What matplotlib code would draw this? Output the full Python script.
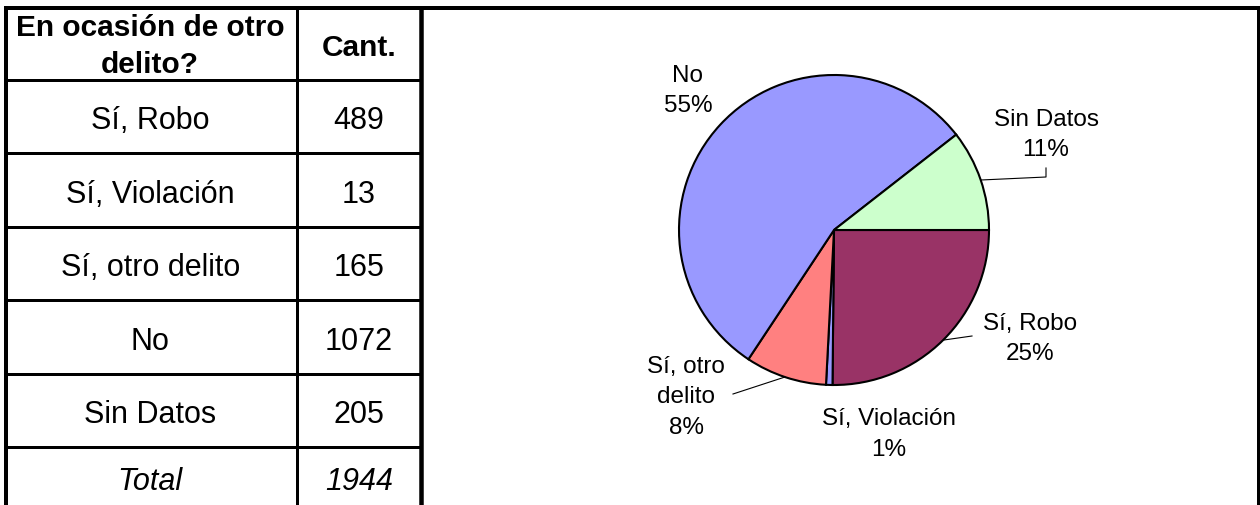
import matplotlib
matplotlib.use("Agg")
import matplotlib.pyplot as plt
import numpy as np

plt.rcParams['font.family'] = ['Liberation Sans', 'DejaVu Sans']

# ---- data ----
header = ["En ocasión de otro\ndelito?", "Cant."]
categories = ["Sí, Robo", "Sí, Violación", "Sí, otro delito", "No", "Sin Datos"]
counts = [489, 13, 165, 1072, 205]
total_label = "Total"
total_value = 1944

pie_labels = ["Sí, Robo", "Sí, Violación", "Sí, otro\ndelito", "No", "Sin Datos"]
pie_colors = ["#993366", "#9999FF", "#FF8080", "#9999FF", "#CCFFCC"]

W, H = 1260, 506
fig = plt.figure(figsize=(W / 100, H / 100), dpi=100)
fig.patch.set_facecolor("white")

# background axes in pixel coordinates
bg = fig.add_axes([0, 0, 1, 1])
bg.set_xlim(0, W)
bg.set_ylim(H, 0)
bg.axis("off")

px = 72 / 100  # points per pixel

# outer frame
bg.plot([5.5, 5.5], [9, H + 5], color="black", lw=4 * px, solid_capstyle="butt")
bg.plot([3.5, 1260], [9, 9], color="black", lw=4 * px, solid_capstyle="butt")
bg.plot([1258.5, 1258.5], [7, H + 5], color="black", lw=4 * px, solid_capstyle="butt")

# table grid
col_x = [5.5, 297, 421]
row_y = [9, 80.5, 154, 228, 301, 374.5, 448, 532]
bg.plot([297, 297], [9, H + 5], color="black", lw=3 * px, solid_capstyle="butt")
bg.plot([421, 421], [9, H + 5], color="black", lw=4.5 * px, solid_capstyle="butt")
for y in row_y[1:-1]:
    bg.plot([5.5, 421], [y, y], color="black", lw=3 * px, solid_capstyle="butt")

c1 = (col_x[0] + col_x[1]) / 2 - 1
c2 = (col_x[1] + col_x[2]) / 2
for j, line in enumerate(header[0].split("\n")):
    bg.text(c1, 35.5 + 37.5 * j, line, ha="center", va="baseline", fontsize=21.5,
            fontweight="bold")
bg.text(c2, 56, header[1], ha="center", va="baseline", fontsize=21.5,
        fontweight="bold")

rows = list(zip(categories, counts)) + [(total_label, total_value)]
for i, (cat, val) in enumerate(rows):
    last = i == len(rows) - 1
    yb = 490 if last else (row_y[i + 1] + row_y[i + 2]) / 2 + 12
    style = "italic" if last else "normal"
    bg.text(c1, yb, cat, ha="center", va="baseline", fontsize=22, style=style)
    bg.text(c2, yb, str(val), ha="center", va="baseline", fontsize=22, style=style)

# pie chart
cx, cy, R = 834, 231, 155
pax = fig.add_axes([(cx - R) / W, (H - cy - R) / H, 2 * R / W, 2 * R / H])
wedges, _ = pax.pie(counts, colors=pie_colors, startangle=0, counterclock=False,
                    radius=1.0,
                    wedgeprops=dict(edgecolor="black", linewidth=1.5))
pax.set_xlim(-1, 1)
pax.set_ylim(-1, 1)
pax.set_aspect("equal")
pax.axis("off")


def to_data(x, y):
    return (x - cx) / R, -(y - cy) / R


pct = [round(100 * c / sum(counts)) for c in counts]
# (x centre, first baseline) in pixels
label_pos = [(1030, 330), (889, 425), (686, 373), (688, 82), (1046, 126)]
for lab, p, (lx, ly) in zip(pie_labels, pct, label_pos):
    lines = lab.split("\n") + [f"{p}%"]
    for j, line in enumerate(lines):
        pax.text(*to_data(lx, ly + 30.5 * j), line, ha="center", va="baseline",
                 fontsize=17.5, clip_on=False)

# leader lines
leaders = [
    [(944, 341), (972, 337)],
    [(785, 378), (733, 395)],
    [(981, 181), (1046, 178), (1046, 169)],
]
for pts in leaders:
    xs, ys = zip(*[to_data(x, y) for x, y in pts])
    pax.plot(xs, ys, color="black", lw=0.8, clip_on=False)

fig.savefig("out.png", dpi=100, facecolor="white")
